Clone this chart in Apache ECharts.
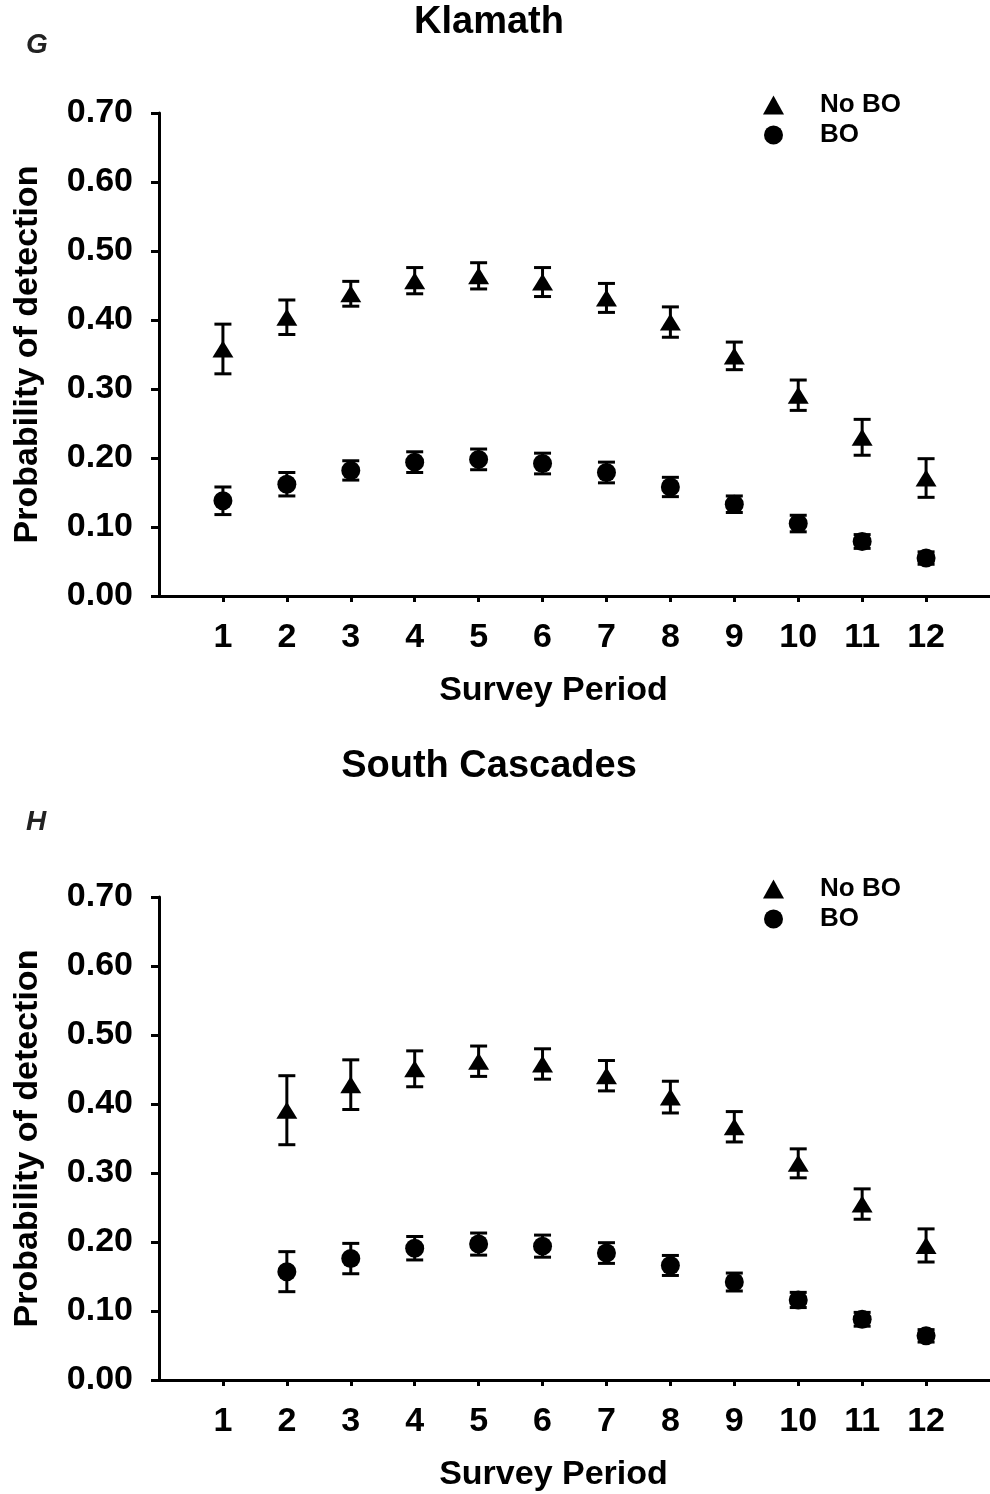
<!DOCTYPE html>
<html>
<head>
<meta charset="utf-8">
<script src="https://cdn.jsdelivr.net/npm/echarts@6/dist/echarts.min.js"></script>
<style>
html,body{margin:0;padding:0;background:#fff;}
#c{width:990px;height:1494px;}
</style>
</head>
<body>
<div id="c"></div>
<script>
// ---- data ----
const periods = [1, 2, 3, 4, 5, 6, 7, 8, 9, 10, 11, 12];
const yTicks = [0, 0.1, 0.2, 0.3, 0.4, 0.5, 0.6, 0.7];

const klamathNoBO    = [0.358, 0.404, 0.438, 0.457, 0.464, 0.455, 0.432, 0.397, 0.348, 0.291, 0.230, 0.171];
const klamathNoBOErr = [0.036, 0.025, 0.018, 0.019, 0.019, 0.021, 0.021, 0.022, 0.020, 0.022, 0.026, 0.028];
const klamathBO      = [0.138, 0.162, 0.182, 0.194, 0.198, 0.192, 0.179, 0.158, 0.133, 0.105, 0.079, 0.055];
const klamathBOErr   = [0.020, 0.017, 0.014, 0.015, 0.015, 0.015, 0.015, 0.014, 0.012, 0.012, 0.010, 0.009];

const cascNoBO    = [null, 0.391, 0.428, 0.451, 0.462, 0.458, 0.441, 0.410, 0.367, 0.314, 0.255, 0.195];
const cascNoBOErr = [null, 0.050, 0.036, 0.026, 0.022, 0.022, 0.022, 0.023, 0.022, 0.021, 0.022, 0.024];
const cascBO      = [null, 0.157, 0.176, 0.191, 0.197, 0.194, 0.184, 0.166, 0.142, 0.116, 0.088, 0.064];
const cascBOErr   = [null, 0.029, 0.022, 0.017, 0.016, 0.016, 0.015, 0.0145, 0.013, 0.011, 0.010, 0.009];

// ---- helpers ----
const FONT = "'Liberation Sans', Arial, Helvetica, sans-serif";
function pts(vals) {
  return periods.map((p, i) => [p, vals[i]]).filter(d => d[1] != null);
}
function errPts(vals, errs) {
  return periods.map((p, i) => [p, vals[i], errs[i]]).filter(d => d[1] != null);
}
function errorBarSeries(name, idx, vals, errs) {
  return {
    type: 'custom',
    name: name,
    xAxisIndex: idx, yAxisIndex: idx,
    data: errPts(vals, errs),
    encode: { x: 0, y: 1 },
    z: 2,
    silent: true,
    renderItem: function (params, api) {
      const x = api.value(0), y = api.value(1), e = api.value(2);
      const top = api.coord([x, y + e]);
      const bot = api.coord([x, y - e]);
      const hw = 8.5;
      const st = { stroke: '#000', lineWidth: 3 };
      return {
        type: 'group',
        children: [
          { type: 'line', shape: { x1: top[0], y1: top[1], x2: bot[0], y2: bot[1] }, style: st },
          { type: 'line', shape: { x1: top[0] - hw, y1: top[1], x2: top[0] + hw, y2: top[1] }, style: st },
          { type: 'line', shape: { x1: bot[0] - hw, y1: bot[1], x2: bot[0] + hw, y2: bot[1] }, style: st }
        ]
      };
    }
  };
}
function xAxisDef(idx) {
  return {
    type: 'value', gridIndex: idx, min: 0, max: 13, interval: 1,
    name: 'Survey Period', nameLocation: 'middle', nameGap: 78,
    nameTextStyle: { fontFamily: FONT, fontWeight: 'bold', fontSize: 34, color: '#000', padding: [0, 42, 0, 0] },
    axisLine: { show: true, lineStyle: { color: '#000', width: 3 } },
    axisTick: { show: true, inside: false, length: 6, lineStyle: { color: '#000', width: 3 }, customValues: periods },
    axisLabel: { show: true, margin: 25, fontFamily: FONT, fontWeight: 'bold', fontSize: 34, color: '#000', customValues: periods },
    splitLine: { show: false }
  };
}
function yAxisDef(idx) {
  return {
    type: 'value', gridIndex: idx, min: 0, max: 0.7, interval: 0.1,
    name: 'Probability of detection', nameLocation: 'middle', nameGap: 114, nameRotate: 90,
    nameTextStyle: { fontFamily: FONT, fontWeight: 'bold', fontSize: 34, color: '#000' },
    axisLine: { show: true, lineStyle: { color: '#000', width: 3 } },
    axisTick: { show: true, inside: false, length: 8, lineStyle: { color: '#000', width: 3 } },
    axisLabel: { show: true, margin: 26, fontFamily: FONT, fontWeight: 'bold', fontSize: 34, color: '#000',
      customValues: yTicks, formatter: v => v.toFixed(2) },
    splitLine: { show: false }
  };
}
function scatter(name, idx, vals, symbol, size) {
  return {
    type: 'scatter', name: name, xAxisIndex: idx, yAxisIndex: idx,
    data: pts(vals), symbol: symbol, symbolSize: size, z: 3,
    itemStyle: { color: '#000', opacity: 1 }
  };
}
function legendDef(top) {
  return {
    orient: 'vertical', left: 758, top: top, itemWidth: 21, itemHeight: 19, itemGap: 4,
    selectedMode: false,
    textStyle: { fontFamily: FONT, fontWeight: 'bold', fontSize: 26, lineHeight: 26, color: '#000', padding: [0, 0, 0, 31] },
    data: [{ name: 'No BO', icon: 'triangle' }, { name: 'BO', icon: 'circle' }]
  };
}

const chart = echarts.init(document.getElementById('c'), null, { renderer: 'canvas' });
chart.setOption({
  backgroundColor: '#fff',
  animation: false,
  title: [
    { text: 'Klamath', left: 489, top: 4, textAlign: 'center', padding: 0,
      textStyle: { fontFamily: FONT, fontWeight: 'bold', fontSize: 38, color: '#000' } },
    { text: 'South Cascades', left: 489, top: 748, textAlign: 'center', padding: 0,
      textStyle: { fontFamily: FONT, fontWeight: 'bold', fontSize: 38, color: '#000' } },
    { text: 'G', left: 26, top: 31, padding: 0,
      textStyle: { fontFamily: "'Liberation Sans Narrow', " + FONT, fontWeight: 'bold', fontStyle: 'italic', fontSize: 28, color: '#222' } },
    { text: 'H', left: 26, top: 808, padding: 0,
      textStyle: { fontFamily: "'Liberation Sans Narrow', " + FONT, fontWeight: 'bold', fontStyle: 'italic', fontSize: 28, color: '#222' } }
  ],
  legend: [legendDef(87), legendDef(871)],
  grid: [
    { left: 159, top: 113, width: 832, height: 483 },
    { left: 159, top: 897, width: 832, height: 483 }
  ],
  xAxis: [xAxisDef(0), xAxisDef(1)],
  yAxis: [yAxisDef(0), yAxisDef(1)],
  series: [
    errorBarSeries('err1', 0, klamathNoBO, klamathNoBOErr),
    errorBarSeries('err2', 0, klamathBO, klamathBOErr),
    scatter('No BO', 0, klamathNoBO, 'triangle', [21, 17]),
    scatter('BO', 0, klamathBO, 'circle', 19),
    errorBarSeries('err3', 1, cascNoBO, cascNoBOErr),
    errorBarSeries('err4', 1, cascBO, cascBOErr),
    scatter('No BO', 1, cascNoBO, 'triangle', [21, 17]),
    scatter('BO', 1, cascBO, 'circle', 19)
  ]
});
</script>
</body>
</html>
